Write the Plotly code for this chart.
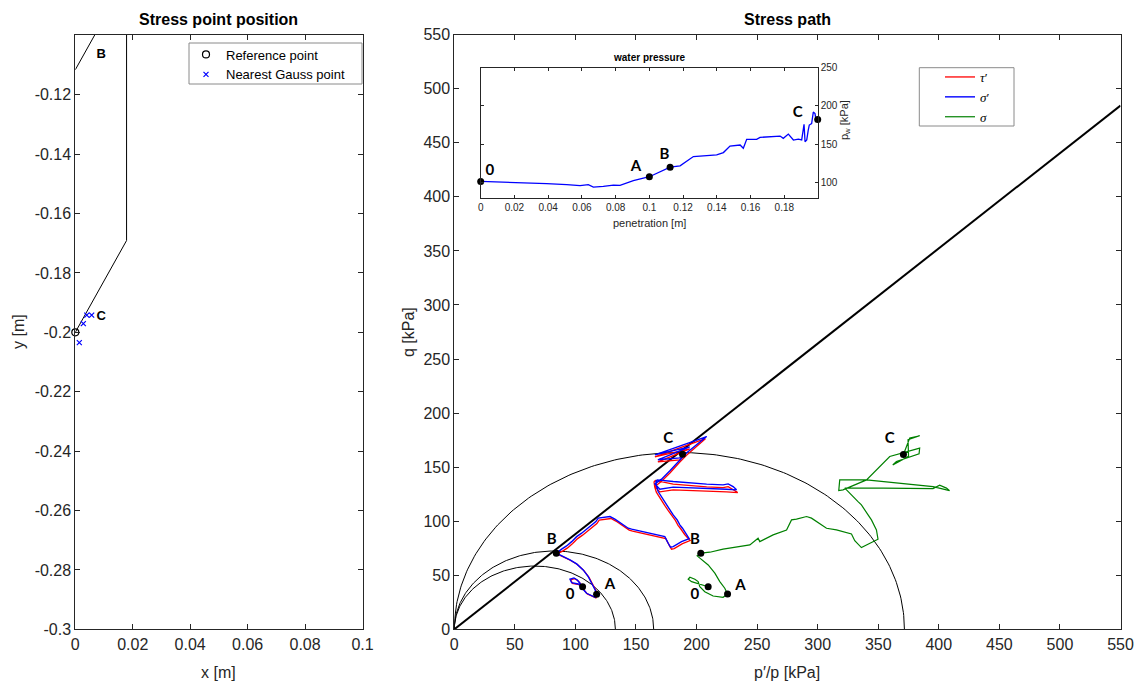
import numpy as np
import plotly.graph_objects as go

W, H = 1146, 684
def px(x): return x / W
def py(y): return 1 - y / H

# ---------------- Left plot data ----------------
cone_x = [0.0, 0.01785, 0.01785]
coneB_y = [-0.1116, -0.0807, 0.0]
coneC_y = [-0.2, -0.1691, 0.0]
ref_x = [0.0]
ref_y = [-0.2]
gauss_x = [0.0014, 0.0028, 0.0040, 0.0057]
gauss_y = [-0.2035, -0.1971, -0.1942, -0.1942]
left_labels = ["B", "C"]
left_lab_x = [0.0090, 0.0090]
left_lab_y = [-0.1065, -0.1947]
left_yticks = [-0.3, -0.28, -0.26, -0.24, -0.22, -0.2, -0.18, -0.16, -0.14, -0.12]
left_yticktext = ["-0.3", "-0.28", "-0.26", "-0.24", "-0.22", "-0.2", "-0.18", "-0.16", "-0.14", "-0.12"]
left_xticks = [0, 0.02, 0.04, 0.06, 0.08, 0.1]
left_xticktext = ["0", "0.02", "0.04", "0.06", "0.08", "0.1"]

# ---------------- Main plot data ----------------
M = 0.88
p0_list = [133.0, 164.6, 371.6]
csl_p = [0, 550]
csl_q = [0, 484.5]

blue_p = [105.9,102.3,96.9,95.5,98.8,101.5,103.7,106.4,109.2,113.4,116.3,117.5,
          116.3,113.4,110.6,106.4,101.0,95.5,89.9,84.2,
          88.6,92.7,96.9,101.0,105.1,109.2,113.4,116.9,118.8,122.9,128.5,132.6,138.1,143.6,146.4,155.9,169.7,173.8,176.6,178.5,180.7,187.6,193.9,
          191.7,188.4,186.2,184.0,180.7,178.0,175.2,172.4,169.7,168.3,167.0,166.4,167.5,
          180.7,208.3,221.9,226.1,230.2,233.0,
          224.8,180.7,169.7,165.6,
          171.1,178.0,186.2,191.7,208.3,165.6,194.3,168.1,186.2,188.4]
blue_q = [39.4,41.9,43.1,46.3,47.5,45.6,42.6,37.0,33.3,30.8,29.6,32.4,
          36.4,42.6,48.7,54.9,60.5,64.2,67.2,70.4,
          74.1,77.1,81.1,85.7,88.9,92.6,95.6,99.6,102.8,103.7,104.3,101.9,97.5,93.5,92.6,90.4,87.3,85.7,79.6,75.9,76.5,81.1,83.9,
          88.2,93.5,96.6,101.2,105.8,110.5,115.1,120.4,124.4,127.4,132.0,136.7,138.2,
          136.7,134.3,133.6,134.5,132.0,129.0,
          129.6,131.5,129.6,134.5,
          138.9,146.6,156.8,163.0,178.3,161.4,168.8,156.8,158.6,162.0]

red_p = [106.5,102.9,97.5,96.1,99.4,102.1,104.3,107.0,109.8,114.0,116.9,118.1,
         116.9,114.0,111.2,107.0,101.6,96.1,90.5,84.8,
         89.4,93.5,97.7,101.8,105.9,110.0,114.2,117.7,119.6,123.7,129.3,133.4,138.9,144.4,147.2,156.7,170.5,174.6,177.4,179.3,181.5,188.4,194.7,
         190.2,186.9,184.7,182.5,179.2,176.5,173.7,170.9,168.2,166.8,165.5,164.9,166.0,
         180.7,208.3,221.9,226.1,230.2,234.0,
         224.8,180.7,169.7,165.6,
         171.1,178.0,186.2,191.7,207.3,165.6,194.3,168.1,186.2,188.4]
red_q = [38.8,41.3,42.5,45.7,46.9,45.0,42.0,36.4,32.7,30.2,29.0,31.8,
         35.8,42.0,48.1,54.3,59.9,63.6,66.6,69.8,
         72.3,75.3,79.3,83.9,87.1,90.8,93.8,97.8,101.0,101.9,102.5,100.1,95.7,91.7,90.8,88.6,85.5,83.9,77.8,74.1,74.7,79.3,82.1,
         87.7,93.0,96.1,100.7,105.3,110.0,114.6,119.9,123.9,126.9,131.5,136.2,137.7,
         134.2,131.8,131.1,132.0,129.5,126.5,
         127.1,129.0,127.1,132.0,
         136.9,144.6,154.8,161.0,176.3,159.4,166.8,154.8,156.6,160.0]

green_p = [209.6,202.7,195.9,193.1,194.5,198.6,201.3,202.7,206.8,213.7,221.9,225.6,
           223.3,219.2,215.1,209.6,204.1,200.5,203.5,
           211.0,221.9,227.5,235.7,244.0,250.8,252.2,263.2,274.3,278.4,282.5,290.8,294.9,307.3,315.5,327.9,330.6,336.1,
           349.8,348.5,344.4,341.6,338.9,336.1,333.3,329.2,325.1,322.4,
           354.0,395.2,400.7,406.3,408.9,
           395.2,340.3,318.2,317.4,320.9,
           340.3,359.5,384.2,383.7,365.0,362.0,375.0,374.6,384.2,376.0,370.8]
green_q = [39.4,41.9,44.1,46.3,48.1,46.3,44.1,39.4,34.8,30.8,29.6,32.7,
           38.0,44.1,51.9,59.5,64.8,67.9,70.4,
           71.3,74.1,75.0,76.5,78.1,84.3,81.1,87.3,91.9,101.2,101.9,104.3,102.8,93.5,91.9,88.2,82.0,75.6,
           83.3,91.9,101.2,105.8,110.5,115.1,118.1,122.8,127.4,130.6,
           130.6,130.2,133.3,130.6,128.3,
           132.0,138.2,138.2,128.3,129.0,
           138.2,159.8,167.6,162.3,155.2,152.0,160.0,175.3,179.0,176.9,161.7]

dots_p = [105.9, 117.5, 84.2, 188.4, 209.6, 225.6, 203.5, 370.8]
dots_q = [39.4, 32.4, 70.4, 162.0, 39.4, 32.7, 70.4, 161.7]

main_labels = ["C", "B", "0", "A", "B", "0", "A", "C"]
main_lab_p = [176.6, 80.4, 95.5, 128.5, 198.6, 198.6, 236.3, 359.5]
main_lab_q = [175.9, 82.7, 31.8, 40.4, 82.7, 31.8, 40.1, 175.9]

main_ticks = [0, 50, 100, 150, 200, 250, 300, 350, 400, 450, 500, 550]

# ---------------- Inset data ----------------
pen = [0, 0.0174, 0.0391, 0.0510, 0.0589, 0.0638, 0.0668, 0.0727, 0.0787, 0.0826,
       0.0905, 0.1000, 0.1063, 0.1123, 0.1182, 0.1261, 0.1340, 0.1399, 0.1439, 0.1478,
       0.1538, 0.1557, 0.1577, 0.1636, 0.1656, 0.1715, 0.1775, 0.1794, 0.1824, 0.1854,
       0.1883, 0.1903, 0.1913, 0.1917, 0.1923, 0.1933, 0.1942, 0.1948, 0.1962, 0.1972,
       0.1982, 0.1988, 0.1998]
pw = [101.3, 100.4, 98.3, 97.0, 95.7, 97.0, 93.9, 94.8, 96.5, 96.1,
      102.2, 107.4, 114.3, 119.9, 121.6, 133.8, 135.1, 136.0, 139.0, 147.6,
      148.9, 144.6, 156.3, 156.3, 158.9, 159.7, 160.6, 157.6, 163.2, 155.4,
      156.7, 155.5, 172.7, 176.0, 153.2, 155.5, 168.4, 175.0, 177.0, 192.0,
      190.0, 181.4, 182.3]
ins_dot_pen = [0, 0.1000, 0.1123, 0.1998]
ins_dot_pw = [101.3, 107.4, 119.9, 182.3]
ins_labels = ["0", "A", "B", "C"]
ins_lab_pen = [0.0055, 0.0920, 0.1090, 0.1880]
ins_lab_pw = [115.0, 119.5, 136.0, 191.0]
ins_xticks = [0, 0.02, 0.04, 0.06, 0.08, 0.1, 0.12, 0.14, 0.16, 0.18]
ins_xticktext = ["0", "0.02", "0.04", "0.06", "0.08", "0.1", "0.12", "0.14", "0.16", "0.18"]
ins_yticks = [100, 150, 200, 250]

TXT = "#262626"
FONT = "Liberation Sans, Arial, sans-serif"
LABF = "Lato, Open Sans, sans-serif"

fig = go.Figure()

# ---- left plot ----
fig.add_trace(go.Scatter(x=cone_x, y=coneB_y, mode="lines", line=dict(color="black", width=1),
                         showlegend=False, xaxis="x", yaxis="y"))
fig.add_trace(go.Scatter(x=cone_x, y=coneC_y, mode="lines", line=dict(color="black", width=1),
                         showlegend=False, xaxis="x", yaxis="y"))
fig.add_trace(go.Scatter(x=ref_x, y=ref_y, mode="markers", name="Reference point",
                         marker=dict(symbol="circle-open", size=7, color="black", line=dict(width=1.2)),
                         xaxis="x", yaxis="y", legend="legend", cliponaxis=False))
fig.add_trace(go.Scatter(x=gauss_x, y=gauss_y, mode="markers", name="Nearest Gauss point",
                         marker=dict(symbol="x-thin", size=5, color="blue", line=dict(width=1.2, color="blue")),
                         xaxis="x", yaxis="y", legend="legend"))
fig.add_trace(go.Scatter(x=left_lab_x, y=left_lab_y, mode="text", text=left_labels,
                         textfont=dict(family=FONT, size=13, color="black", weight="bold"),
                         showlegend=False, xaxis="x", yaxis="y"))

# ---- main plot ----
theta = np.linspace(0, np.pi, 200)
for p0 in p0_list:
    a = p0 / 2
    fig.add_trace(go.Scatter(x=a + a * np.cos(theta), y=M * a * np.sin(theta), mode="lines",
                             line=dict(color="black", width=1), showlegend=False,
                             xaxis="x2", yaxis="y2"))
fig.add_trace(go.Scatter(x=csl_p, y=csl_q, mode="lines", line=dict(color="black", width=2),
                         showlegend=False, xaxis="x2", yaxis="y2"))
fig.add_trace(go.Scatter(x=red_p, y=red_q, mode="lines", name="<i>τ</i>′",
                         line=dict(color="red", width=1.3), xaxis="x2", yaxis="y2", legend="legend2"))
fig.add_trace(go.Scatter(x=blue_p, y=blue_q, mode="lines", name="<i>σ</i>′",
                         line=dict(color="blue", width=1.4), xaxis="x2", yaxis="y2", legend="legend2"))
fig.add_trace(go.Scatter(x=green_p, y=green_q, mode="lines", name="<i>σ</i>",
                         line=dict(color="green", width=1.2), xaxis="x2", yaxis="y2", legend="legend2"))
fig.add_trace(go.Scatter(x=dots_p, y=dots_q, mode="markers", marker=dict(color="black", size=7),
                         showlegend=False, xaxis="x2", yaxis="y2"))
fig.add_trace(go.Scatter(x=main_lab_p, y=main_lab_q, mode="text", text=main_labels,
                         textfont=dict(family=LABF, size=15, color="black", weight="bold"),
                         showlegend=False, xaxis="x2", yaxis="y2"))

# ---- inset ----
fig.add_trace(go.Scatter(x=pen, y=pw, mode="lines", line=dict(color="blue", width=1.3),
                         showlegend=False, xaxis="x3", yaxis="y3"))
fig.add_trace(go.Scatter(x=ins_dot_pen, y=ins_dot_pw, mode="markers", marker=dict(color="black", size=7),
                         showlegend=False, xaxis="x3", yaxis="y3", cliponaxis=False))
fig.add_trace(go.Scatter(x=ins_lab_pen, y=ins_lab_pw, mode="text", text=ins_labels,
                         textfont=dict(family=LABF, size=15, color="black", weight="bold"),
                         showlegend=False, xaxis="x3", yaxis="y3", cliponaxis=False))

ax_common = dict(showgrid=False, zeroline=False, showline=True, linecolor=TXT, linewidth=1,
                 mirror="ticks", ticks="inside", ticklen=5, tickcolor=TXT, automargin=False,
                 tickfont=dict(family=FONT, size=16, color=TXT))
ins_common = dict(showgrid=False, zeroline=False, showline=True, linecolor=TXT, mirror="ticks",
                  ticks="inside", ticklen=3, tickcolor=TXT, automargin=False,
                  tickfont=dict(family=FONT, size=10, color=TXT))

def ann(text, x, y, size, color=TXT, angle=0):
    return dict(text=text, x=px(x), y=py(y), xref="paper", yref="paper", xanchor="center",
                yanchor="middle", textangle=angle, showarrow=False,
                font=dict(family=FONT, size=size, color=color))

fig.update_layout(
    width=W, height=H, margin=dict(l=0, r=0, t=0, b=0, pad=0, autoexpand=False),
    paper_bgcolor="white", plot_bgcolor="white",
    xaxis=dict(domain=[px(75.3), px(362.5)], range=[0, 0.1], anchor="y",
               tickvals=left_xticks, ticktext=left_xticktext, **ax_common),
    yaxis=dict(domain=[py(629.3), py(34.7)], range=[-0.3, -0.0998], anchor="x",
               tickvals=left_yticks, ticktext=left_yticktext, **ax_common),
    xaxis2=dict(domain=[px(454.3), px(1120.5)], range=[0, 550], anchor="y2",
                tickvals=main_ticks, **ax_common),
    yaxis2=dict(domain=[py(629.3), py(34.7)], range=[0, 550], anchor="x2",
                tickvals=main_ticks, **ax_common),
    xaxis3=dict(domain=[px(480.7), px(817.7)], range=[0, 0.1998], anchor="y3",
                tickvals=ins_xticks, ticktext=ins_xticktext, **ins_common),
    yaxis3=dict(domain=[py(197.7), py(67.7)], range=[80, 250], anchor="x3", side="right",
                tickvals=ins_yticks, **ins_common),
    legend=dict(x=px(186), y=py(39.5), xanchor="left", yanchor="top", bgcolor="rgba(0,0,0,0)",
                borderwidth=0, font=dict(family=FONT, size=13, color="black"), tracegroupgap=0),
    legend2=dict(x=px(940), y=py(62), xanchor="left", yanchor="top", bgcolor="rgba(0,0,0,0)",
                 borderwidth=0, font=dict(family="Liberation Serif, serif", size=13, color="black"),
                 tracegroupgap=0),
    shapes=[
        dict(type="rect", xref="paper", yref="paper", x0=px(189), x1=px(362), y0=py(84), y1=py(43),
             line=dict(color="#8a8a8a", width=1), fillcolor="white", layer="below"),
        dict(type="rect", xref="paper", yref="paper", x0=px(919.3), x1=px(1014), y0=py(126), y1=py(67.7),
             line=dict(color="#8a8a8a", width=1), fillcolor="white", layer="below"),
    ],
    annotations=[
        ann("<b>Stress point position</b>", 218.9, 20, 16, "black"),
        ann("<b>Stress path</b>", 787.4, 20, 16, "black"),
        ann("x [m]", 218.9, 672, 16),
        ann("y [m]", 18, 332, 16, angle=-90),
        ann("p′/p [kPa]", 787.4, 672, 16),
        ann("q [kPa]", 408, 332, 16, angle=-90),
        ann("<b>water pressure</b>", 649.2, 58, 10, "black"),
        ann("penetration [m]", 649.2, 223, 11),
        ann("p<sub>w</sub> [kPa]", 845, 120, 11, angle=-90),
    ],
)

fig.write_html("out.html")
